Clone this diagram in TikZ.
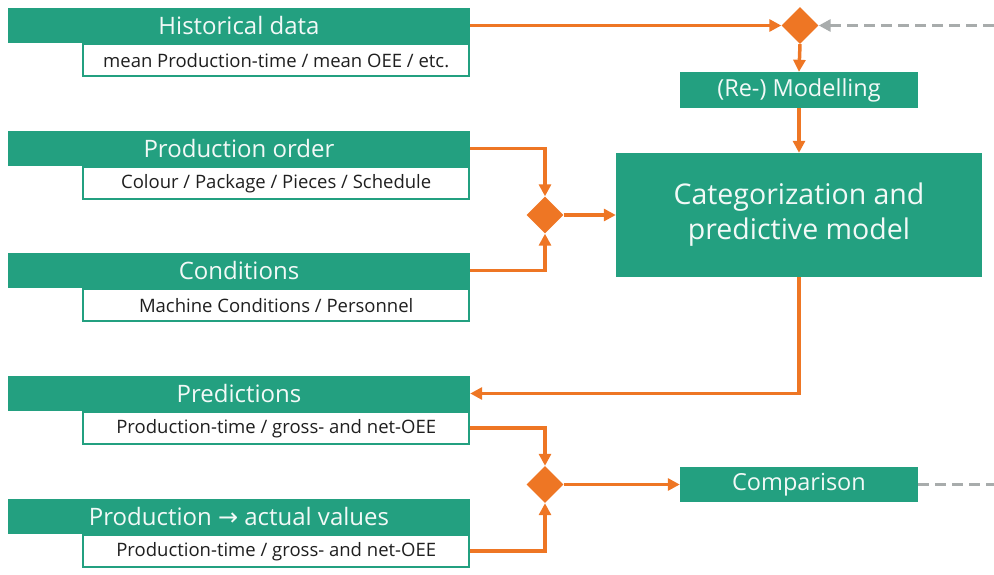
\documentclass[tikz,border=0pt]{standalone}
\usepackage{fontspec}
\setmainfont{Open Sans}
\newfontfamily\arrowfont{DejaVu Sans}
\usetikzlibrary{arrows.meta,shapes.geometric}
\definecolor{boxgreen}{RGB}{35,160,128}
\definecolor{flowc}{RGB}{238,118,36}
\definecolor{dashgray}{RGB}{168,172,172}

\begin{document}
\begin{tikzpicture}[x=1pt,y=-1pt,
    head/.style={rectangle,fill=boxgreen,text=white!94!boxgreen,inner sep=0pt,
      minimum width=462pt,minimum height=35pt,font=\fontsize{24}{28}\selectfont},
    subbox/.style={rectangle,draw=boxgreen,line width=2pt,fill=white,inner sep=0pt,
      anchor=north east,minimum width=386pt,minimum height=32pt,text=black!88,
      font=\fontsize{18.5}{22}\selectfont},
    mainbox/.style={rectangle,fill=boxgreen,text=white!94!boxgreen,inner sep=0pt,
      align=center,font=\fontsize{23.5}{28}\selectfont},
    merge/.style={diamond,fill=flowc,inner sep=0pt,minimum size=37pt},
    flow/.style={draw=flowc,line width=3.5pt,-{Triangle[length=12pt,width=12pt]}},
    back/.style={draw=dashgray,line width=3.5pt,dash pattern=on 11pt off 6pt,
      -{Triangle[length=12pt,width=12pt]}}]
  \useasboundingbox (0,0) rectangle (994,574);

  % input side
  \node[head] (hd) at (239,25.5) {Historical data};
  \node[subbox] (hd-s) at (hd.south east) {mean Production-time / mean OEE / etc.};
  \node[head] (po) at (239,148.5) {Production order};
  \node[subbox] (po-s) at (po.south east) {Colour / Package / Pieces / Schedule};
  \node[head] (co) at (239,270.5) {Conditions};
  \node[subbox] (co-s) at (co.south east) {Machine Conditions / Personnel};
  \node[head] (pr) at (239,393.5) {Predictions};
  \node[subbox] (pr-s) at (pr.south east) {Production-time / gross- and net-OEE};
  \node[head] (pa) at (239,516.5) {Production {\arrowfont →} actual values};
  \node[subbox] (pa-s) at (pa.south east) {Production-time / gross- and net-OEE};

  % model side
  \node[merge] (d0) at (800,25.5) {};
  \node[merge] (d1) at (545,215) {};
  \node[merge] (d2) at (545,484.5) {};
  \node[mainbox,minimum width=238pt,minimum height=36pt] (mod) at (799,90) {(Re-) Modelling};
  \node[mainbox,minimum width=366pt,minimum height=124pt,
    font=\fontsize{28.5}{35}\selectfont] (cat) at (799,215) {Categorization and\\predictive model};
  \node[mainbox,minimum width=238pt,minimum height=35pt] (cmp) at (799,484.5) {Comparison};
  \coordinate (fbin) at (994,25.5);
  \coordinate (fbout) at (994,484.5);

  \draw[flow] (hd.east) -- (d0.west);
  \draw[flow] (d0.south) -- (mod.north);
  \draw[flow] (mod.south) -- (cat.north);
  \draw[flow] (po.east) -| (d1.north);
  \draw[flow] (co.east) -| (d1.south);
  \draw[flow] (d1.east) -- (cat.west);
  \draw[flow] (cat.south) |- (pr.east);
  \draw[flow] (pr-s.east) -| (d2.north);
  \draw[flow] (pa-s.east) -| (d2.south);
  \draw[flow] (d2.east) -- (cmp.west);
  \draw[back] (fbin) -- (d0.east);
  \draw[back,-] (cmp.east) -- (fbout);
\end{tikzpicture}
\end{document}
